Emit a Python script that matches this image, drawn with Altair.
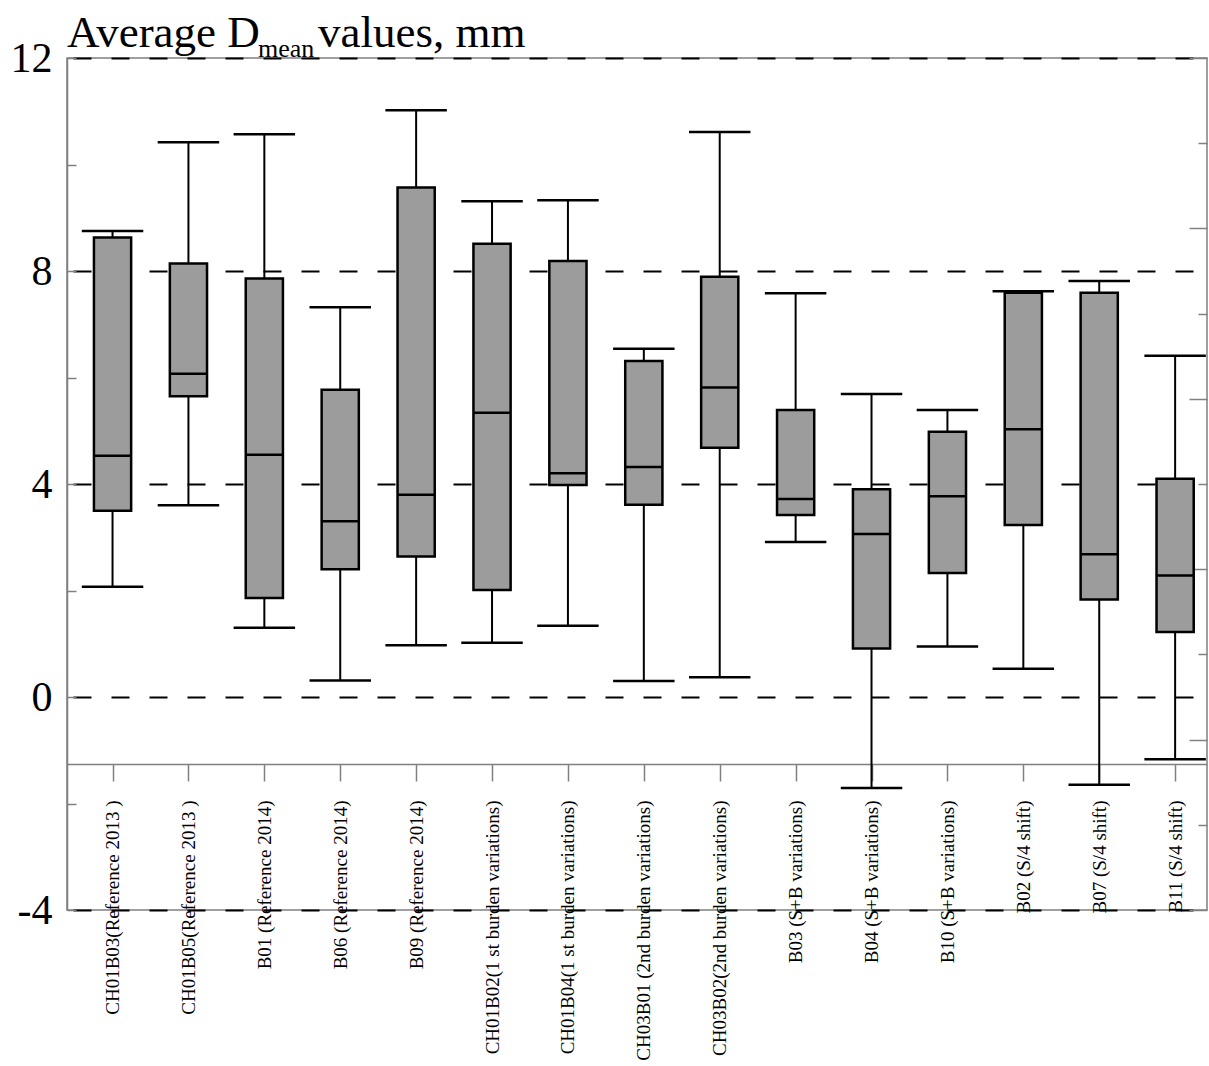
import json
import altair as alt
import pandas as pd

# Categories (blast rounds) and the five box-plot statistics of D_mean, mm
categories = [
    "CH01B03(Reference 2013 )",
    "CH01B05(Reference 2013 )",
    "B01 (Reference 2014)",
    "B06 (Reference 2014)",
    "B09 (Reference 2014)",
    "CH01B02(1 st burden variations)",
    "CH01B04(1 st burden variations)",
    "CH03B01 (2nd burden variations)",
    "CH03B02(2nd burden variations)",
    "B03 (S+B variations)",
    "B04 (S+B variations)",
    "B10 (S+B variations)",
    "B02 (S/4 shift)",
    "B07 (S/4 shift)",
    "B11 (S/4 shift)",
]
whisker_low = [2.07, 3.60, 1.30, 0.31, 0.97, 1.02, 1.34, 0.30, 0.37, 2.91, -1.71, 0.95, 0.53, -1.65, -1.17]
q1 = [3.50, 5.65, 1.86, 2.40, 2.64, 2.01, 3.98, 3.61, 4.68, 3.42, 0.91, 2.33, 3.23, 1.83, 1.22]
median = [4.53, 6.07, 4.55, 3.30, 3.80, 5.34, 4.20, 4.32, 5.81, 3.72, 3.06, 3.77, 5.03, 2.68, 2.28]
q3 = [8.63, 8.14, 7.86, 5.77, 9.57, 8.51, 8.19, 6.31, 7.89, 5.39, 3.90, 4.98, 7.59, 7.59, 4.10]
whisker_high = [8.75, 10.42, 10.57, 7.32, 11.02, 9.31, 9.33, 6.54, 10.61, 7.58, 5.69, 5.39, 7.62, 7.81, 6.41]

y_major = [-4, 0, 4, 8, 12]
y_minor = [-4, -2, 0, 2, 4, 6, 8, 10, 12]
frame_ticks = list(range(11))

df = pd.DataFrame({
    "idx": list(range(len(categories))),
    "name": categories,
    "low": whisker_low,
    "q1": q1,
    "median": median,
    "q3": q3,
    "high": whisker_high,
})

W, H = 1140, 852
SERIF = "Liberation Serif"
GREY = "#808080"
BOX_HALF = 0.245
CAP_HALF = 0.405

x_scale = alt.Scale(domain=[-0.6, 14.42], nice=False, zero=False)
y_scale = alt.Scale(domain=[-4, 12], nice=False, zero=False)

label_lookup = json.dumps(categories)
x_axis = alt.Axis(
    values=list(range(len(categories))),
    labelExpr=f"{label_lookup}[datum.value]",
    orient="bottom",
    offset=-146,
    title=None,
    grid=False,
    domainColor=GREY,
    domainWidth=1.5,
    tickColor=GREY,
    tickWidth=1.5,
    tickSize=17,
    labelAngle=270,
    labelAlign="right",
    labelBaseline="middle",
    labelPadding=19,
    labelFont=SERIF,
    labelFontSize=19,
    labelColor="black",
    labelOverlap=False,
    labelFlush=False,
    labelLimit=0,
)

y_axis = alt.Axis(
    values=y_major,
    orient="left",
    title=None,
    ticks=False,
    tickSize=0,
    domainColor=GREY,
    domainWidth=1.5,
    labelExpr="datum.value < 0 ? '-' + abs(datum.value) : '' + datum.value",
    labelFont=SERIF,
    labelFontSize=42,
    labelColor="black",
    labelPadding=15,
    grid=True,
    gridColor="black",
    gridWidth=2,
    gridDash=[18, 20],
    gridDashOffset=32,
)

X = alt.X("idx:Q", scale=x_scale, axis=x_axis)


def Y(field):
    return alt.Y(f"{field}:Q", scale=y_scale, axis=y_axis)


base = alt.Chart(df).transform_calculate(
    box_l=f"datum.idx - {BOX_HALF}",
    box_r=f"datum.idx + {BOX_HALF}",
    cap_l=f"datum.idx - {CAP_HALF}",
    cap_r=f"datum.idx + {CAP_HALF}",
)

whiskers = base.mark_rule(color="black", strokeWidth=2).encode(
    x=X, y=Y("low"), y2="high:Q"
)
cap_low = base.mark_rule(color="black", strokeWidth=2.5).encode(
    x=alt.X("cap_l:Q", scale=x_scale, axis=x_axis), x2="cap_r:Q", y=Y("low")
)
cap_high = base.mark_rule(color="black", strokeWidth=2.5).encode(
    x=alt.X("cap_l:Q", scale=x_scale, axis=x_axis), x2="cap_r:Q", y=Y("high")
)
boxes = base.mark_rect(fill="#9c9c9c", stroke="black", strokeWidth=2.5).encode(
    x=alt.X("box_l:Q", scale=x_scale, axis=x_axis), x2="box_r:Q", y=Y("q1"), y2="q3:Q"
)
medians = base.mark_rule(color="black", strokeWidth=2.5).encode(
    x=alt.X("box_l:Q", scale=x_scale, axis=x_axis), x2="box_r:Q", y=Y("median")
)

plot = alt.layer(whiskers, boxes, medians, cap_low, cap_high)

# inward minor ticks along the left edge
left_ticks = alt.Chart(pd.DataFrame({"v": y_minor})).mark_point(opacity=0).encode(
    y=alt.Y(
        "v:Q",
        scale=alt.Scale(domain=[-4, 12], nice=False, zero=False),
        axis=alt.Axis(
            orient="right", offset=-W, values=y_minor, labels=False, domain=False,
            grid=False, ticks=True, tickSize=9, tickColor=GREY, tickWidth=1.5, title=None,
        ),
    )
)

# inward ticks along the right frame, alternating long and short
right_ticks = alt.Chart(pd.DataFrame({"v": frame_ticks})).mark_point(opacity=0).encode(
    y=alt.Y(
        "v:Q",
        scale=alt.Scale(domain=[0, 10], nice=False, zero=False),
        axis=alt.Axis(
            orient="left", offset=-W, values=frame_ticks, labels=False, domain=False,
            grid=False, ticks=True, tickColor=GREY, tickWidth=1.5, title=None,
            tickSize={"condition": {"test": "datum.value % 2 === 0", "value": 18}, "value": 9},
        ),
    )
)

one_row = alt.Data(values=[{}])
title_main = alt.Chart(one_row).mark_text(
    font=SERIF, fontSize=45, align="left", baseline="alphabetic", color="black"
).encode(x=alt.value(0), y=alt.value(-11), text=alt.value("Average D"))
title_sub = alt.Chart(one_row).mark_text(
    font=SERIF, fontSize=26, align="left", baseline="alphabetic", color="black"
).encode(x=alt.value(191), y=alt.value(-1), text=alt.value("mean"))
title_rest = alt.Chart(one_row).mark_text(
    font=SERIF, fontSize=45, align="left", baseline="alphabetic", color="black"
).encode(x=alt.value(251), y=alt.value(-11), text=alt.value("values, mm"))

chart = (
    alt.layer(plot, left_ticks, right_ticks, title_main, title_sub, title_rest)
    .resolve_scale(y="independent")
    .properties(
        width=W,
        height=H,
        autosize=alt.AutoSizeParams(type="none"),
        padding={"left": 67, "top": 58, "right": 2, "bottom": 156},
        background="white",
    )
    .configure_view(stroke=GREY, strokeWidth=1.5)
)

chart.save("out.html", embed_options={"renderer": "svg", "actions": False})
